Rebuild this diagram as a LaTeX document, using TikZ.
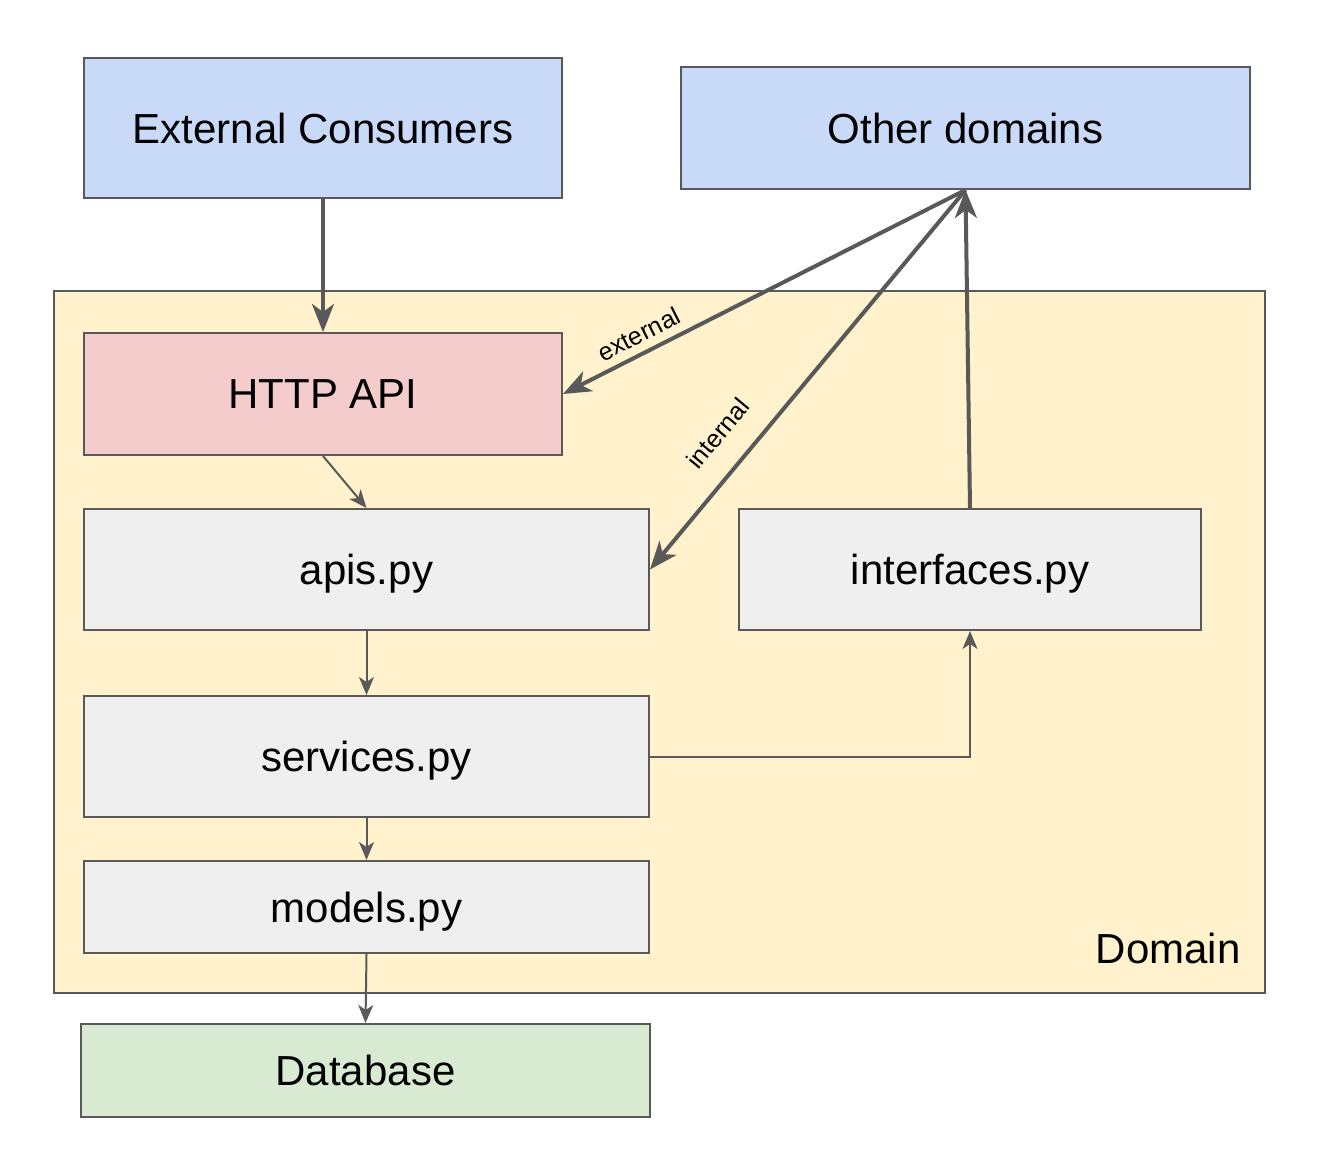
\documentclass[tikz,border=0pt]{standalone}
\usepackage{fontspec}
\setmainfont{Liberation Sans}
\usepackage{xcolor}
\definecolor{ink}{HTML}{000000}
\definecolor{edge}{HTML}{595959}
\definecolor{cBlueBg}{HTML}{C9DAF8}
\definecolor{cRedBg}{HTML}{F4CCCC}
\definecolor{cGreyBg}{HTML}{EFEFEF}
\definecolor{cGreenBg}{HTML}{D9EAD3}
\definecolor{cDomainBg}{HTML}{FFF2CC}
\usetikzlibrary{arrows.meta,positioning,calc}
\tikzset{
  box/.style={draw=edge,line width=1pt,fill=cGreyBg,align=center,inner sep=0pt,
    text depth=0pt,font=\fontsize{21}{25}\selectfont,text=ink},
  bluebox/.style={box,fill=cBlueBg},
  redbox/.style={box,fill=cRedBg},
  greenbox/.style={box,fill=cGreenBg},
  flow/.style={-{Stealth[length=9pt,width=7.5pt,inset=2.5pt]},line width=1pt,edge},
  bigflow/.style={-{Stealth[length=14pt,width=11pt,inset=4pt]},line width=2pt,edge},
  lbl/.style={font=\fontsize{12.5}{14}\selectfont,text=ink,inner sep=2pt}}

\begin{document}
\begin{tikzpicture}[x=0.5pt,y=-0.5pt]
  \useasboundingbox (0,0) rectangle (1322,1160);
  % outer domain
  \node[box,fill=cDomainBg,minimum width=605.5pt,minimum height=351pt] (dom) at (659.5,642) {};
  \node[inner sep=0pt,font=\fontsize{21}{25}\selectfont,anchor=east] (domlbl)
    at ([xshift=-12.5pt,yshift=23pt]dom.south east) {Domain};
  % consumers
  \node[bluebox,minimum width=239pt,minimum height=70pt] (ext) at (323,128) {External Consumers};
  \node[bluebox,minimum width=284.5pt,minimum height=61pt] (other) at (965.5,128) {Other domains};
  % inside the domain
  \node[redbox,minimum width=239pt,minimum height=61pt] (http) at (323,394) {HTTP API};
  \node[box,minimum width=282.5pt,minimum height=60.5pt] (apis) at (366.5,569.5) {apis.py};
  \node[box,minimum width=231pt,minimum height=60.5pt] (iface) at (970,569.5) {interfaces.py};
  \node[box,minimum width=282.5pt,minimum height=60.5pt] (serv) at (366.5,756.5) {services.py};
  \node[box,minimum width=282.5pt,minimum height=46pt] (models) at (366.5,907) {models.py};
  \node[greenbox,minimum width=284.5pt,minimum height=46.5pt] (db) at (365.5,1070.5) {Database};
  % connectors
  \draw[bigflow] (ext.south) -- (http.north);
  \draw[bigflow] (other.south) -- node[lbl,sloped,above=2pt,pos=0.79]{external} (http.east);
  \draw[bigflow] (other.south) -- node[lbl,sloped,above=10pt,pos=0.70]{internal} (apis.east);
  \draw[bigflow] (iface.north) -- (other.south);
  \draw[flow] (http.south) -- (apis.north);
  \draw[flow] (apis.south) -- (serv.north);
  \draw[flow] (serv.east) -| (iface.south);
  \draw[flow] (serv.south) -- (models.north);
  \draw[flow] (models.south) -- (db.north);
\end{tikzpicture}
\end{document}
